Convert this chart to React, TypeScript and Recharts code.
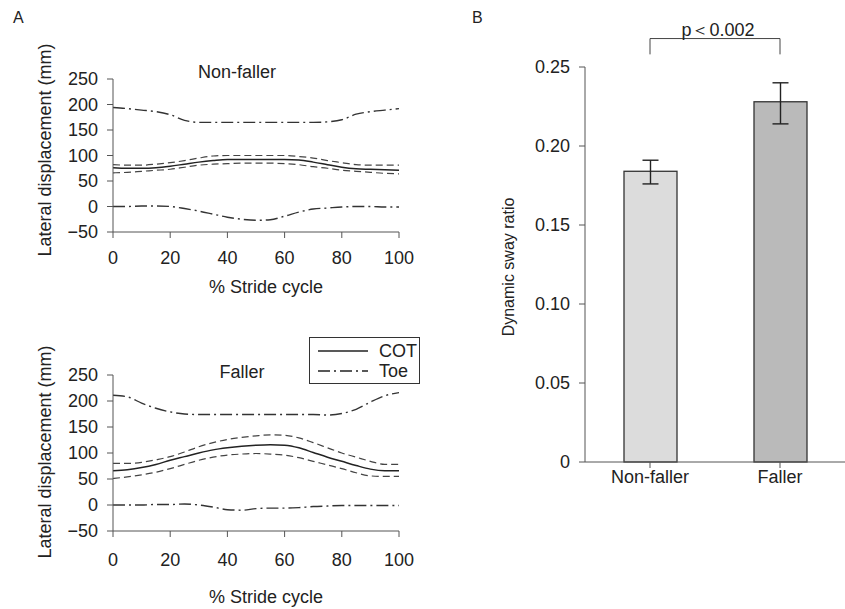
import React from "react";
import {
  LineChart,
  Line,
  XAxis,
  YAxis,
  BarChart,
  Bar,
  ErrorBar,
  ReferenceLine,
} from "recharts";

// % stride cycle, sampled every 5 %
const stride = [0, 5, 10, 15, 20, 25, 30, 35, 40, 45, 50, 55, 60, 65, 70, 75, 80, 85, 90, 95, 100];

// Non-faller (mm)
const nfToeUpper = [194, 192, 189, 186, 180, 169, 165, 165, 165, 165, 165, 165, 165, 165, 165, 166, 170, 181, 186, 189, 192];
const nfCotUpper = [82, 81, 81, 83, 86, 90, 95, 99, 100, 100, 100, 100, 100, 98, 95, 90, 86, 82, 81, 81, 81];
const nfCotMean = [76, 75, 75, 76, 79, 83, 87, 90, 92, 92, 92, 92, 92, 91, 87, 82, 77, 74, 73, 72, 71];
const nfCotLower = [66, 67, 69, 71, 73, 77, 81, 83, 84, 85, 85, 85, 84, 82, 78, 75, 71, 69, 67, 65, 64];
const nfToeLower = [0, 0, 1, 1, 0, -4, -9, -15, -21, -25, -27, -26, -19, -11, -5, -3, -1, 0, 0, -1, -1];

// Faller (mm)
const fToeUpper = [211, 208, 196, 186, 179, 175, 174, 174, 174, 174, 174, 174, 174, 174, 174, 173, 176, 184, 198, 210, 216];
const fCotUpper = [80, 80, 82, 87, 93, 102, 112, 120, 126, 130, 133, 135, 134, 129, 120, 110, 100, 92, 84, 78, 78];
const fCotMean = [66, 68, 72, 78, 86, 93, 100, 106, 110, 113, 115, 116, 115, 110, 101, 92, 84, 76, 69, 66, 66];
const fCotLower = [51, 54, 58, 63, 70, 78, 86, 92, 96, 98, 99, 98, 96, 91, 84, 77, 70, 62, 56, 55, 55];
const fToeLower = [0, 0, 0, 1, 1, 2, 0, -4, -9, -10, -7, -6, -6, -5, -3, -2, -1, -1, -1, -1, -1];

const strideTicks = [0, 20, 40, 60, 80, 100];
const dispTicks = [-50, 0, 50, 100, 150, 200, 250];

// Panel B
const groups = ["Non-faller", "Faller"];
const swayRatio = [0.184, 0.228];
const swayErrLow = [0.008, 0.014];
const swayErrHigh = [0.007, 0.012];
const swayTicks = [0, 0.05, 0.1, 0.15, 0.2, 0.25];

const nfData = stride.map((s, i) => ({
  s,
  toeU: nfToeUpper[i],
  cotU: nfCotUpper[i],
  cot: nfCotMean[i],
  cotL: nfCotLower[i],
  toeL: nfToeLower[i],
}));
const fData = stride.map((s, i) => ({
  s,
  toeU: fToeUpper[i],
  cotU: fCotUpper[i],
  cot: fCotMean[i],
  cotL: fCotLower[i],
  toeL: fToeLower[i],
}));
const barData = groups.map((g, i) => ({
  g,
  v: swayRatio[i],
  err: [swayErrLow[i], swayErrHigh[i]],
}));

const FONT = '"Liberation Sans", Arial, sans-serif';
const INK = "#222";
const AXIS = "#555";
const TOE_DASH = "12 4 2 4";
const SD_DASH = "7 4";

const fmtDisp = (v: number) => (v < 0 ? `\u2212${-v}` : `${v}`);
const fmtSway = (v: number) => (v === 0 ? "0" : v.toFixed(2));

const vTitle = (text: string, x: number, y: number, size = 18) => () => (
  <text
    x={x}
    y={y}
    transform={`rotate(-90 ${x} ${y})`}
    textAnchor="middle"
    dominantBaseline="central"
    fontSize={size}
    fill={INK}
  >
    {text}
  </text>
);

const hTitle = (text: string, x: number, y: number, size = 18) => () => (
  <text x={x} y={y} textAnchor="middle" dominantBaseline="central" fontSize={size} fill={INK}>
    {text}
  </text>
);

function StridePanel({ tickGap, xTitleY, yTitleY }: { tickGap: number; xTitleY: number; yTitleY: number }) {
  return (
    <>
      <XAxis
        dataKey="s"
        type="number"
        domain={[0, 100]}
        ticks={strideTicks}
        interval={0}
        stroke={AXIS}
        tickMargin={tickGap}
        tick={{ fontSize: 18, fill: INK }}
        height={30}
        label={hTitle("% Stride cycle", 266, xTitleY)}
      />
      <YAxis
        domain={[-50, 250]}
        ticks={dispTicks}
        interval={0}
        tickFormatter={fmtDisp}
        stroke={AXIS}
        tickMargin={9}
        width={60}
        tick={{ fontSize: 18, fill: INK }}
        label={vTitle("Lateral displacement (mm)", 45, yTitleY)}
      />
      <Line type="monotone" dataKey="toeU" stroke="#333" strokeWidth={1.4} strokeDasharray={TOE_DASH} dot={false} isAnimationActive={false} />
      <Line type="monotone" dataKey="cotU" stroke="#444" strokeWidth={1.2} strokeDasharray={SD_DASH} dot={false} isAnimationActive={false} />
      <Line type="monotone" dataKey="cot" stroke="#222" strokeWidth={1.5} dot={false} isAnimationActive={false} />
      <Line type="monotone" dataKey="cotL" stroke="#444" strokeWidth={1.2} strokeDasharray={SD_DASH} dot={false} isAnimationActive={false} />
      <Line type="monotone" dataKey="toeL" stroke="#333" strokeWidth={1.4} strokeDasharray={TOE_DASH} dot={false} isAnimationActive={false} />
    </>
  );
}

const abs = (left: number, top: number, extra: React.CSSProperties = {}): React.CSSProperties => ({
  position: "absolute",
  left,
  top,
  ...extra,
});

export default function App() {
  return (
    <div style={{ position: "absolute", left: 0, top: 0, width: 845, height: 609, background: "#fff", fontFamily: FONT, color: INK }}>
      <div style={abs(13, 10, { fontSize: 16, lineHeight: "16px" })}>A</div>
      <div style={abs(472, 10, { fontSize: 16, lineHeight: "16px" })}>B</div>

      {/* Panel A, top: non-fallers */}
      <div style={abs(0, 0)}>
        <LineChart width={420} height={300} data={nfData} margin={{ top: 79, right: 21, bottom: 38, left: 53 }}>
          {StridePanel({ tickGap: 13, xTitleY: 287, yTitleY: 150 })}
        </LineChart>
      </div>
      <div style={abs(237, 63, { fontSize: 18, lineHeight: "18px", transform: "translateX(-50%)", whiteSpace: "nowrap" })}>Non-faller</div>

      {/* Panel A, bottom: fallers */}
      <div style={abs(0, 320)}>
        <LineChart width={420} height={289} data={fData} margin={{ top: 55, right: 21, bottom: 48, left: 53 }}>
          {StridePanel({ tickGap: 16, xTitleY: 277, yTitleY: 132 })}
        </LineChart>
      </div>
      <div style={abs(242, 363, { fontSize: 18, lineHeight: "18px", transform: "translateX(-50%)", whiteSpace: "nowrap" })}>Faller</div>

      {/* legend */}
      <div style={abs(309, 337, { width: 109, height: 45, border: "1px solid #333", background: "#fff", fontSize: 18, lineHeight: "18px" })}>
        {[
          { name: "COT", dash: undefined as string | undefined },
          { name: "Toe", dash: TOE_DASH },
        ].map((e, i) => (
          <div key={e.name} style={abs(8, 4 + i * 20, { display: "flex", alignItems: "center", whiteSpace: "nowrap" })}>
            <svg width={52} height={18}>
              <line x1={0} y1={9} x2={50} y2={9} stroke="#222" strokeWidth={1.4} strokeDasharray={e.dash} />
            </svg>
            <span style={{ marginLeft: 9 }}>{e.name}</span>
          </div>
        ))}
      </div>

      {/* Panel B */}
      <div style={abs(480, 0)}>
        <BarChart width={365} height={609} data={barData} margin={{ top: 67, right: 0, bottom: 117, left: 45 }}>
          <XAxis dataKey="g" stroke={AXIS} tick={{ fontSize: 18, fill: INK }} height={30} interval={0} />
          <YAxis
            domain={[0, 0.25]}
            ticks={swayTicks}
            interval={0}
            tickFormatter={fmtSway}
            stroke={AXIS}
            tickMargin={9}
            width={60}
            tick={{ fontSize: 18, fill: INK }}
            label={vTitle("Dynamic sway ratio", 28, 267, 16)}
          />
          <Bar dataKey="v" barSize={53} stroke="#333" strokeWidth={1.3} isAnimationActive={false} shape={(p: any) => (
            <rect x={p.x} y={p.y} width={p.width} height={p.height} fill={p.index === 0 ? "#dcdcdc" : "#bababa"} stroke="#333" strokeWidth={1.3} />
          )}>
            <ErrorBar dataKey="err" width={8} stroke="#222" strokeWidth={1.4} isAnimationActive={false} />
          </Bar>
          <ReferenceLine
            segment={[{ x: groups[0], y: 0.268 }, { x: groups[1], y: 0.268 }]}
            stroke="#444"
            ifOverflow="visible"
            label={hTitle("p\uFF1C0.002", 238, 30)}
          />
          <ReferenceLine segment={[{ x: groups[0], y: 0.268 }, { x: groups[0], y: 0.258 }]} stroke="#444" ifOverflow="visible" />
          <ReferenceLine segment={[{ x: groups[1], y: 0.268 }, { x: groups[1], y: 0.258 }]} stroke="#444" ifOverflow="visible" />
        </BarChart>
      </div>
    </div>
  );
}
